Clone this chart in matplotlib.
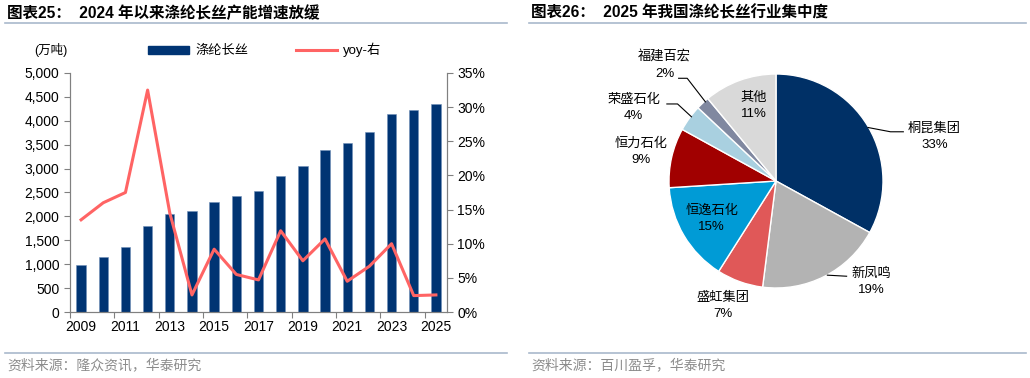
import matplotlib.pyplot as plt
from matplotlib.patches import Patch
from matplotlib.lines import Line2D
from matplotlib.ticker import FuncFormatter

plt.rcParams['font.family'] = ['Liberation Sans', 'Noto Sans CJK SC']

# left chart data
years = list(range(2009, 2026))
capacity = [990, 1150, 1350, 1790, 2050, 2110, 2300, 2430, 2540, 2840,
            3060, 3390, 3530, 3770, 4140, 4230, 4350]
yoy = [13.5, 16.0, 17.5, 32.5, 14.5, 2.5, 9.2, 5.5, 4.7, 11.9,
       7.5, 10.7, 4.5, 6.7, 10.0, 2.4, 2.5]

# right chart data
companies = ['桐昆集团', '新凤鸣', '盛虹集团', '恒逸石化', '恒力石化', '荣盛石化', '福建百宏', '其他']
shares = [33, 19, 7, 15, 9, 4, 2, 11]

bar_color = '#003473'
line_color = '#ff6464'
rule_color = '#a9b9cc'
pie_colors = ['#003066', '#b3b3b3', '#e05858', '#009bd6', '#a10000', '#a9d0e0', '#8088a0', '#d9d9d9']

W, H = 1030, 378
fig = plt.figure(figsize=(W / 100, H / 100), dpi=100)


def fx(x):
    return x / W


def fy(y):
    return 1 - y / H


# titles, rules and footers
fig.text(fx(7), fy(13), '图表25：  2024 年以来涤纶长丝产能增速放缓', fontsize=11.2,
         fontweight='bold', va='center', ha='left')
fig.text(fx(531), fy(13), '图表26：  2025 年我国涤纶长丝行业集中度', fontsize=11.2,
         fontweight='bold', va='center', ha='left')
for x0, x1 in [(5, 507), (529, 1026)]:
    fig.add_artist(Line2D([fx(x0), fx(x1)], [fy(23), fy(23)], color=rule_color, lw=1.2))
    fig.add_artist(Line2D([fx(x0), fx(x1)], [fy(353), fy(353)], color=rule_color, lw=1.2))
fig.text(fx(7), fy(365), '资料来源：隆众资讯，华泰研究', fontsize=10, color='#8c8c8c',
         va='center', ha='left')
fig.text(fx(531), fy(365), '资料来源：百川盈孚，华泰研究', fontsize=10, color='#8c8c8c',
         va='center', ha='left')

# bar + line chart
ax = fig.add_axes([fx(70), fy(312), 377 / W, 239 / H])
pos = list(range(len(years)))
ax.bar(pos, capacity, width=0.42, color=bar_color, edgecolor='#6f8fb8', linewidth=0.4)
ax.set_xlim(-0.5, len(years) - 0.5)
ax.set_ylim(0, 5000)
ax.set_yticks(range(0, 5001, 500))
ax.yaxis.set_major_formatter(FuncFormatter(lambda v, p: f'{v:,.0f}'))
ax.set_xticks([p - 0.5 for p in pos[::2]])
ax.set_xticklabels([])
ax.set_xticks(pos[::2], minor=True)
ax.set_xticklabels([str(y) for y in years[::2]], minor=True)
ax.tick_params(axis='x', which='major', length=4, color='#808080')
ax.tick_params(axis='x', which='minor', length=0, pad=6, labelsize=10)
ax.tick_params(axis='y', length=4, color='#808080', labelsize=10)

ax2 = ax.twinx()
ax2.plot(pos, yoy, color=line_color, lw=2.2)
ax2.set_ylim(0, 35)
ax2.set_yticks(range(0, 36, 5))
ax2.yaxis.set_major_formatter(FuncFormatter(lambda v, p: f'{v:.0f}%'))
ax2.tick_params(axis='y', length=4, color='#808080', labelsize=10)

for a in (ax, ax2):
    a.spines['top'].set_visible(False)
    for s in ('left', 'right', 'bottom'):
        a.spines[s].set_color('#808080')

fig.text(fx(51), fy(50), '(万吨)', fontsize=9, ha='center', va='center')
handles = [Patch(color=bar_color), Line2D([], [], color=line_color, lw=2.2)]
fig.legend(handles, ['涤纶长丝', 'yoy-右'], loc='center left',
           bbox_to_anchor=(fx(136), fy(50)), ncol=2, frameon=False,
           handlelength=3.1, handleheight=0.55, handletextpad=0.5,
           columnspacing=3.6, fontsize=9.5)

# pie chart
R = 107
pa = fig.add_axes([fx(776 - R), fy(181 + R), 2 * R / W, 2 * R / H])
pa.pie(shares, colors=pie_colors, startangle=90, counterclock=False,
       radius=1, wedgeprops=dict(edgecolor='white', linewidth=1))
pa.set_aspect('equal')
pa.set_xlim(-1, 1)
pa.set_ylim(-1, 1)
pa.axis('off')

label_pos = [(1.48, 0.41), (0.89, -0.94), (-0.50, -1.17), (-0.60, -0.35),
             (-1.26, 0.27), (-1.33, 0.68), (-1.04, 1.08), (-0.21, 0.70)]
leaders = {
    0: [(0.86, 0.50), (1.07, 0.46), (1.19, 0.46)],
    1: [(0.48, -0.88), (0.66, -0.89)],
    5: [(-0.79, 0.60), (-0.92, 0.72), (-1.02, 0.72)],
    6: [(-0.66, 0.74), (-0.83, 0.96), (-0.91, 0.96)],
}
for i, (name, share) in enumerate(zip(companies, shares)):
    x, y = label_pos[i]
    pa.text(x, y, f'{name}\n{share}%', ha='center', va='center', fontsize=9.5,
            linespacing=1.45, clip_on=False)
for pts in leaders.values():
    pa.plot([p[0] for p in pts], [p[1] for p in pts], color='black', lw=0.8, clip_on=False)

fig.savefig('out.png', dpi=100)
